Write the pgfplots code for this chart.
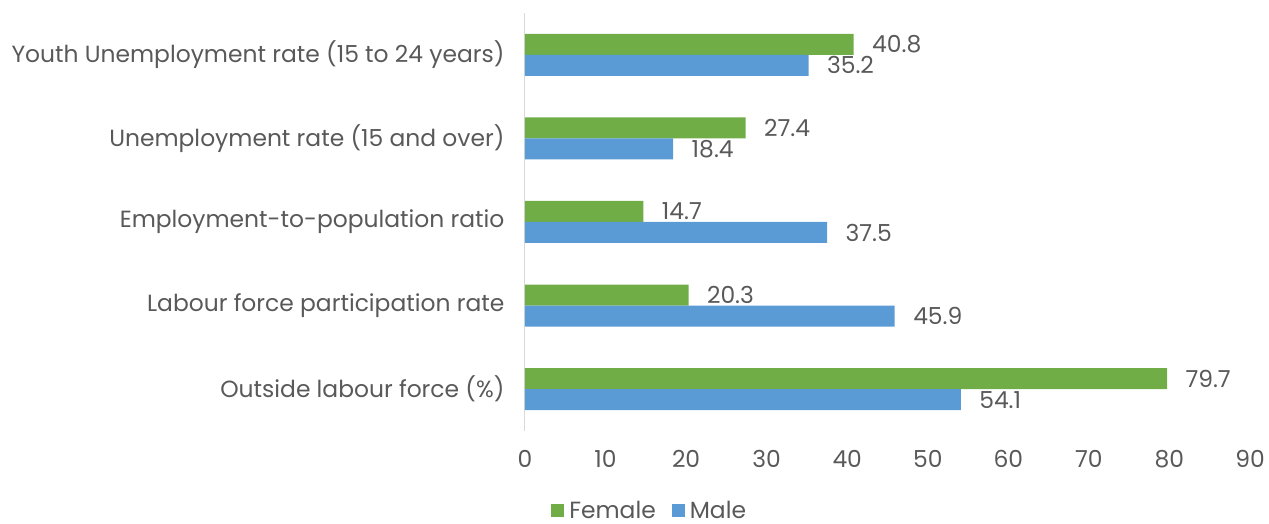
\documentclass[border=0pt]{standalone}
\usepackage{pgfplots}
\pgfplotsset{compat=1.18}
\usepackage{fontspec}
\setmainfont{Poppins}
\definecolor{fem}{HTML}{70AD47}
\definecolor{mal}{HTML}{5B9BD5}
\definecolor{txt}{HTML}{595959}
\definecolor{axl}{HTML}{D9D9D9}
\begin{document}
\begin{tikzpicture}
\useasboundingbox (-525pt,-93pt) rectangle (744pt,431pt);
\begin{axis}[
  scale only axis,
  width=725pt, height=418pt,
  xbar, bar width=21pt,
  xmin=0, xmax=90,
  ymin=-0.5, ymax=4.5,
  xtick={0,10,...,90},
  ytick={0,1,2,3,4},
  yticklabels={Outside labour force (\%),Labour force participation rate,Employment-to-population ratio,Unemployment rate (15 and over),Youth Unemployment rate (15 to 24 years)},
  axis lines*=left,
  x axis line style={draw=none},
  y axis line style={draw=axl, line width=1pt},
  major tick length=0pt,
  tick label style={font=\fontsize{23.4}{27}\selectfont, text=txt},
  /pgf/number format/assume math mode=true,
  xticklabel style={yshift=-16pt},
  yticklabel style={xshift=-17pt},
  nodes near coords,
  nodes near coords style={font=\fontsize{23.4}{27}\selectfont, text=txt, anchor=west, xshift=15pt},
  point meta=explicit symbolic,
  clip=false,
  legend style={draw=none, legend columns=2, at={(0.172,-0.19)}, anchor=center, inner sep=1pt,
    font=\fontsize{23.4}{27}\selectfont, text=txt, /tikz/every even column/.append style={column sep=14pt}},
  legend image code/.code={\fill[#1] (0pt,-6.5pt) rectangle (13pt,6.5pt);},
  legend cell align=left,
]
\addplot[fill=fem, draw=none, bar shift=10.5pt] coordinates {
  (79.7,0) [79.7] (20.3,1) [20.3] (14.7,2) [14.7] (27.4,3) [27.4] (40.8,4) [40.8]};
\addplot[fill=mal, draw=none, bar shift=-10.5pt] coordinates {
  (54.1,0) [54.1] (45.9,1) [45.9] (37.5,2) [37.5] (18.4,3) [18.4] (35.2,4) [35.2]};
\legend{\hspace{3pt}Female, \hspace{3pt}Male}
\end{axis}
\end{tikzpicture}
\end{document}
